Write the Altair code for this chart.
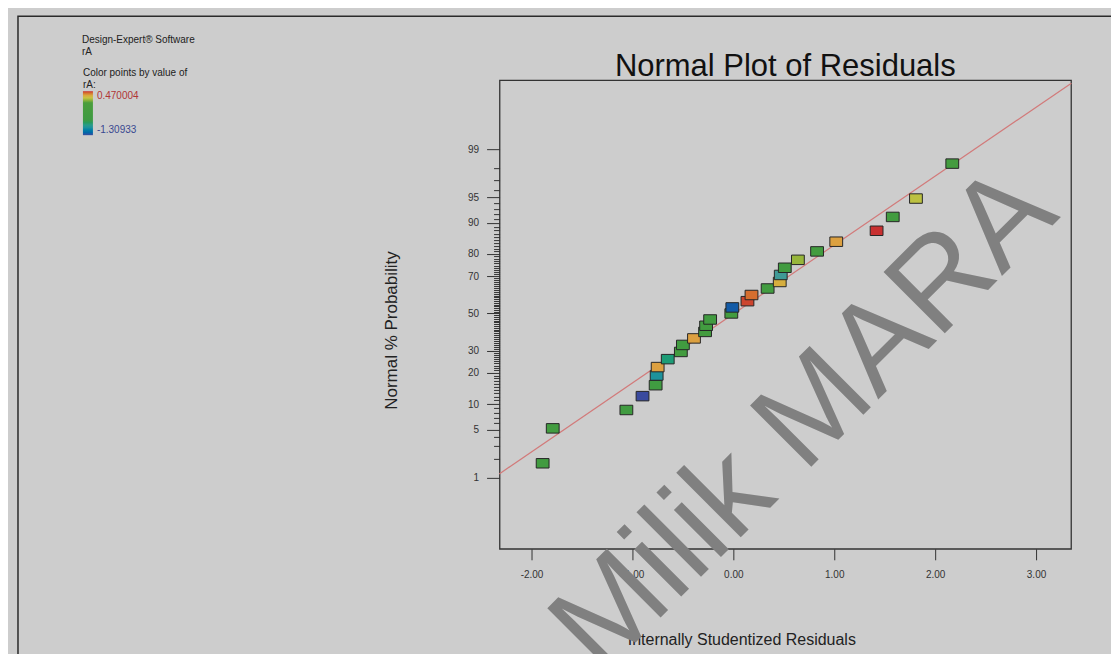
import altair as alt
import pandas as pd
from statistics import NormalDist

# ---------------- data ----------------
residuals = [-1.89, -1.79, -1.06, -0.90, -0.77, -0.76, -0.75, -0.65, -0.52, -0.50,
             -0.39, -0.28, -0.27, -0.23, -0.02, -0.01, 0.14, 0.18, 0.34, 0.46,
             0.47, 0.51, 0.64, 0.83, 1.02, 1.42, 1.58, 1.81, 2.17]
probability = [1.7, 5.2, 8.6, 12.1, 15.5, 19.0, 22.4, 25.9, 29.3, 32.8,
               36.2, 39.7, 43.1, 46.6, 50.0, 53.4, 56.9, 60.3, 63.8, 67.2,
               70.7, 74.1, 77.6, 81.0, 84.5, 87.9, 91.4, 94.8, 98.3]
ra_values = [-0.50, -0.45, -0.55, -1.30933, -0.60, -1.00, 0.33, -0.85, -0.40, -0.50,
             0.33, -0.35, -0.45, -0.50, -0.40, -1.25, 0.45, 0.40, -0.45, 0.28,
             -0.95, -0.50, 0.12, -0.40, 0.33, 0.470004, -0.45, 0.18, -0.35]

line_res = [-2.32, 3.35]
line_prob = [1.16, 99.944]

major_pct = [1, 5, 10, 20, 30, 50, 70, 80, 90, 95, 99]
all_pct = list(range(1, 100))
x_ticks = [-2, -1, 0, 1, 2, 3]

ra_min, ra_max = -1.30933, 0.470004
ra_stops = [ra_min, -0.95, -0.75, 0.0, 0.2, 0.33, ra_max]
ra_colors = ["#3a4a9e", "#3f9a96", "#3d9a42", "#4a9e3c", "#c8c444", "#dca040", "#c83030"]

# ---------------- build ----------------
tick_z = [NormalDist().inv_cdf(p / 100) for p in all_pct]

pts = pd.DataFrame({"res": residuals, "pct": probability, "rA": ra_values})
line_df = pd.DataFrame({"res": line_res, "pct": line_prob})
one = pd.DataFrame({"k": [0]})

FONT = "Liberation Sans"
major_list = "[" + ",".join(str(p) for p in major_pct) + "]"
pexpr = "round(cumulativeNormal(datum.value)*100)"
is_major = f"indexof({major_list}, {pexpr}) >= 0"

xscale = alt.Scale(domain=[-2.317, 3.347], nice=False, zero=False)
yscale = alt.Scale(domain=[-3.33, 3.30], nice=False, zero=False)

xaxis = alt.Axis(
    values=x_ticks, title="Internally Studentized Residuals",
    labelExpr="(datum.value < 0 ? '-' : '') + format(abs(datum.value), '.2f')",
    tickSize=11, tickColor="#333", tickWidth=1, labelPadding=10,
    labelFont=FONT, labelFontSize=10, labelColor="#333",
    titleFont=FONT, titleFontSize=16, titleFontWeight="normal", titleColor="#222",
    titleX=242, titleY=91, titleBaseline="middle", titleAlign="center",
    domain=False, grid=False,
)
yaxis = alt.Axis(
    values=tick_z, title="Normal % Probability",
    labelExpr=f"{is_major} ? format({pexpr}, 'd') : ''",
    tickSize={"condition": {"test": is_major, "value": 13}, "value": 6},
    tickColor="#333", tickWidth=1, labelPadding=8, labelOverlap=False, labelBound=False,
    labelFont=FONT, labelFontSize=10, labelColor="#333",
    titleFont=FONT, titleFontSize=17, titleFontWeight="normal", titleColor="#222",
    titleX=-108, titleY=250, titleBaseline="middle", titleAlign="center", titleAngle=270,
    domain=False, grid=False,
)

legend = alt.Legend(
    title=["Color points by value of", "rA:"], orient="none", legendX=-417, legendY=-12,
    titleFont=FONT, titleFontSize=10, titleFontWeight="normal", titleColor="#222",
    titleLineHeight=12, titlePadding=1, titleAlign="left", padding=0,
    gradientLength=44, gradientThickness=10, gradientStrokeWidth=0,
    values=[ra_min, ra_max], labelOffset=4, labelFont=FONT, labelFontSize=10,
    labelExpr="(datum.value < 0 ? '-' : '') + format(abs(datum.value), '.6')",
    labelColor={"expr": "datum.value > 0 ? '#b03535' : '#384890'"},
)

line = alt.Chart(line_df).transform_calculate(
    z="quantileNormal(datum.pct/100)"
).mark_line(color="#d27a7a", strokeWidth=1.2).encode(
    x=alt.X("res:Q", scale=xscale, axis=xaxis),
    y=alt.Y("z:Q", scale=yscale, axis=yaxis),
)

points = alt.Chart(pts).transform_calculate(
    z="quantileNormal(datum.pct/100)"
).mark_point(
    shape="M-1.35,-1H1.35V1H-1.35Z", size=90, filled=True, opacity=1,
    stroke="#262626", strokeWidth=1,
).encode(
    x=alt.X("res:Q", scale=xscale, axis=xaxis),
    y=alt.Y("z:Q", scale=yscale, axis=yaxis),
    color=alt.Color("rA:Q", scale=alt.Scale(domain=ra_stops, range=ra_colors), legend=legend),
)

border = alt.Chart(one).mark_rect(fill="transparent", stroke="#2a2a2a", strokeWidth=1.5).encode(
    x=alt.value(-482), x2=alt.value(700), y=alt.value(-64), y2=alt.value(700)
)

def note(txt, x, y, size=10, align="left", color="#222"):
    return alt.Chart(one).mark_text(
        text=txt, font=FONT, fontSize=size, color=color, align=align, baseline="middle"
    ).encode(x=alt.value(x), y=alt.value(y))

notes = note("Design-Expert® Software", -418, -40) + note("rA", -418, -28)
title = note("Normal Plot of Residuals", 286, -13, size=31, align="center", color="#111")

watermark = alt.Chart(one).mark_text(
    text="Milik MARA", font=FONT, fontSize=126, angle=315, color="#808080",
    align="center", baseline="middle",
).encode(x=alt.value(305), y=alt.value(340))

chart = alt.layer(border, line, points, notes, title, watermark).properties(
    width=572, height=469,
    autosize=alt.AutoSizeParams(type="none"),
    padding={"left": 492, "top": 72, "right": 40, "bottom": 105},
    background="#cdcdcd",
).configure_view(stroke="#333", strokeWidth=1.3)

chart.save("out.html", embed_options={"renderer": "svg", "actions": False})
